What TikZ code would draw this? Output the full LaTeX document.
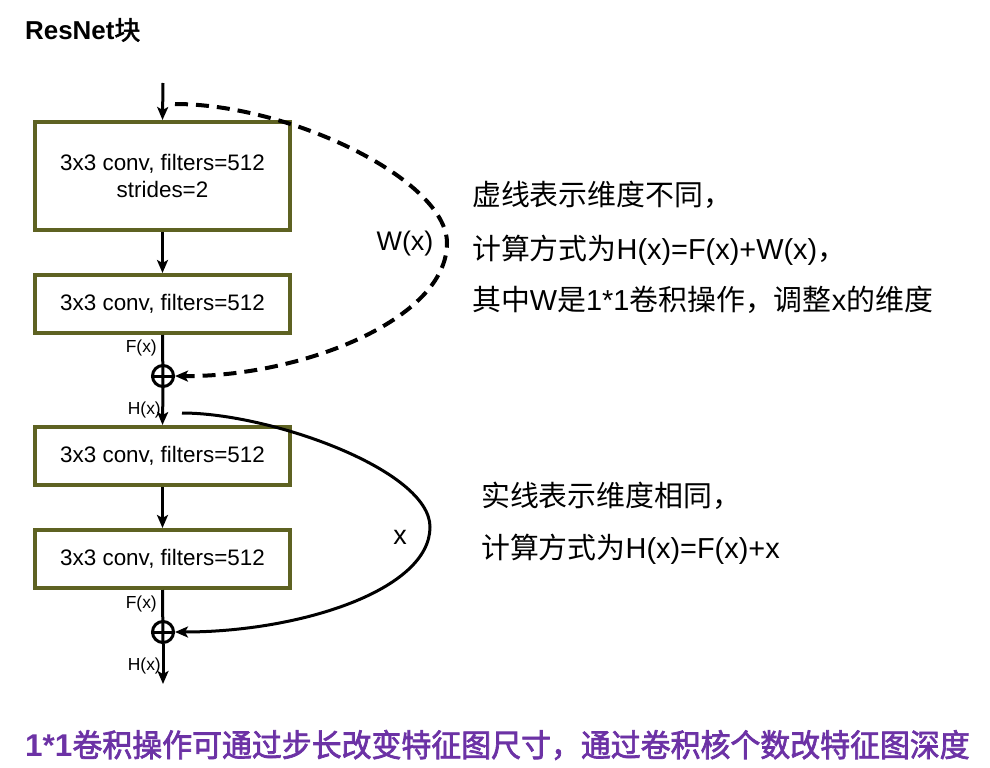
\documentclass[tikz,border=0pt]{standalone}
\usepackage{fontspec}
\setmainfont{Liberation Sans}
\newfontfamily\cjk{Noto Sans CJK SC}[AutoFakeBold=2]
\newfontfamily\cjkn{Noto Sans CJK SC}[FakeStretch=0.95,AutoFakeBold=2.2]
\usetikzlibrary{arrows.meta}
\definecolor{boxolive}{RGB}{94,98,34}
\definecolor{notepurple}{RGB}{108,50,165}
\newcommand{\fsz}[1]{\fontsize{#1}{#1}\selectfont}
\tikzset{
  convbox/.style={draw=boxolive, line width=4bp, fill=white, minimum width=255bp, align=center, inner sep=0pt, font=\fsz{22.5}},
  arr/.style={line width=3bp, -{Stealth[length=13bp,width=11bp,inset=3bp]}},
  plain/.style={line width=3bp},
  addop/.style={circle, draw, line width=3bp, minimum size=21bp, inner sep=0pt},
  smalllab/.style={font=\fsz{17.5}, inner sep=0pt, anchor=east},
  note/.style={font=\fsz{29}, inner sep=0pt, anchor=west},
}
\begin{document}
\begin{tikzpicture}[x=1bp,y=-1bp]
\useasboundingbox (0,0) rectangle (990,768);
% title
\node[inner sep=0pt, anchor=west, font=\fsz{26}\bfseries] (title) at (25,30) {ResNet{\cjk 块}};
% boxes
\node[convbox, minimum height=108bp] (b1) at (162.5,176) {3x3 conv, filters=512\\[5bp]strides=2};
\node[convbox, minimum height=58bp] (b2) at (162.5,304) {3x3 conv, filters=512};
\node[convbox, minimum height=58bp] (b3) at (162.5,456) {3x3 conv, filters=512};
\node[convbox, minimum height=58bp] (b4) at (162.5,559) {3x3 conv, filters=512};
% add ops
\node[addop] (p1) at (163,376) {};
\node[addop] (p2) at (163,632) {};
% coordinates
\coordinate (in) at (163,83);
\coordinate (out) at (163,684);
\coordinate (ws) at (175,104);
\coordinate (xs) at (182,413);
% main path
\draw[arr] (in) -- (b1.north);
\draw[arr] (b1.south) -- (b2.north);
\draw[plain] (b2.south) -- (p1.south);
\draw[plain] (p1.west) -- (p1.east);
\draw[arr] (p1.south) -- (b3.north);
\draw[arr] (b3.south) -- (b4.north);
\draw[plain] (b4.south) -- (p2.south);
\draw[plain] (p2.west) -- (p2.east);
\draw[arr] (p2.south) -- (out);
% labels
\node[smalllab] (f1) at (157,348) {F(x)};
\node[smalllab] (h1) at (161,410) {H(x)};
\node[smalllab] (f2) at (157,604) {F(x)};
\node[smalllab] (h2) at (161,666) {H(x)};
% shortcut curves
\draw[arr, line width=4bp, dash pattern=on 13bp off 8bp] (ws) .. controls (290,104) and (447,180) .. (447,243) .. controls (447,320) and (300,377) .. (p1.east);
\draw[arr] (xs) .. controls (270,413) and (430,470) .. (430,527) .. controls (430,590) and (300,632) .. (p2.east);
\node[inner sep=0pt, font=\fsz{27}] (wl) at (405,244) {W(x)};
\node[inner sep=0pt, font=\fsz{27}] (xl) at (400,537) {x};
% notes
\node[note] (n1) at (472,195) {\cjk 虚线表示维度不同，};
\node[note] (n2) at (472,250) {{\cjk 计算方式为}H(x)=F(x)+W(x){\cjk ，}};
\node[note] (n3) at (472,300) {{\cjk 其中}W{\cjk 是}1*1{\cjk 卷积操作，调整}x{\cjk 的维度}};
\node[note] (n4) at (481,496) {\cjk 实线表示维度相同，};
\node[note] (n5) at (481,549) {{\cjk 计算方式为}H(x)=F(x)+x};
\node[inner sep=0pt, anchor=west, font=\fsz{31.6}\bfseries, text=notepurple] (bottom) at (25,745) {1*1{\cjkn 卷积操作可通过步长改变特征图尺寸，通过卷积核个数改特征图深度}};
\end{tikzpicture}
\end{document}
